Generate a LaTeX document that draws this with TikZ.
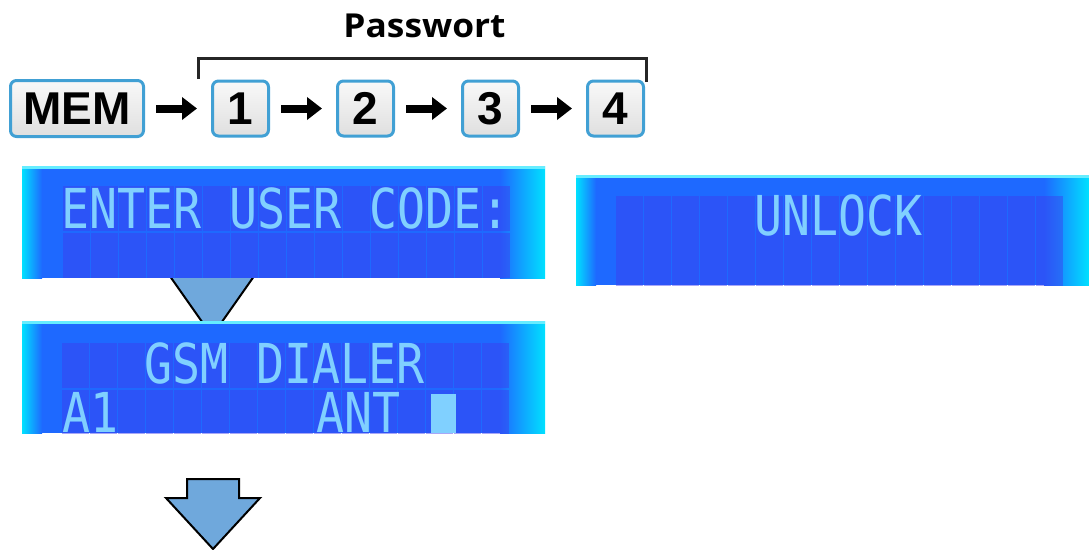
\documentclass[tikz,border=0pt]{standalone}
\usepackage{fontspec}
\usepackage{graphicx}
\usetikzlibrary{arrows.meta,positioning}
\setmainfont{Liberation Sans}
\newfontfamily\lcdfont{DejaVu Sans Mono}
\newfontfamily\titlefont{Open Sans}
\definecolor{keyblue}{RGB}{65,160,212}
\definecolor{lcdblue}{RGB}{30,105,255}
\definecolor{lcdedge}{RGB}{0,225,255}
\definecolor{lcdcell}{RGB}{62,60,238}
\definecolor{lcdtext}{RGB}{128,208,255}
\definecolor{arrowblue}{RGB}{111,168,220}
\begin{document}
\begin{tikzpicture}[line cap=round,line join=round,x=1pt,y=-1pt,
  key/.style={draw=keyblue,line width=3pt,rounded corners=6pt,top color=gray!5,bottom color=gray!25,
    inner sep=0pt,font=\fontsize{46}{46}\selectfont\bfseries},
  keyarrow/.style={-{Triangle[length=15pt,width=22pt]},line width=8pt,line cap=butt,
    shorten <=11pt,shorten >=14pt},
  lcdtxt/.style={anchor=base west,inner sep=0pt,text=lcdtext,font=\lcdfont\fontsize{55}{55}\selectfont},
  downarrow/.style={fill=arrowblue,draw=black,line width=2pt,line join=miter}]
\useasboundingbox (0,0) rectangle (1089,549);
% keys
\node [key,minimum width=133pt,minimum height=56pt] (mem) at (77,108.5) {MEM};
\begin{scope}[node distance=66pt]
\node [key,minimum width=56pt,minimum height=55pt,right=of mem] (k1) {1};
\node [key,minimum width=56pt,minimum height=55pt,right=of k1] (k2) {2};
\node [key,minimum width=56pt,minimum height=55pt,right=of k2] (k3) {3};
\node [key,minimum width=56pt,minimum height=55pt,right=of k3] (k4) {4};
\end{scope}
\draw [keyarrow] (mem) -- (k1);
\draw [keyarrow] (k1) -- (k2);
\draw [keyarrow] (k2) -- (k3);
\draw [keyarrow] (k3) -- (k4);
% bracket
\coordinate (brl) at (198,79);
\coordinate (brr) at (646,82);
\draw [line width=3pt,color=black!85,line cap=butt,line join=miter] (brl) -- ++(0,-21) -| (brr);
\node [anchor=base,inner sep=0pt,font=\titlefont\bfseries\fontsize{33}{33}\selectfont] (pw) at (424.5,37) {\scalebox{1.07}[1]{Passwort}};
% arrow behind the displays
\draw [downarrow] (160,262) -- (264,262) -- (212,336) -- cycle;
% displays
\foreach \xa/\ya/\xb/\yb/\cx/\ra/\rb in {22/166/545/278/63/186/233,576/175/1089/285/616/196/241,22/321/545/433/62/343/390}{
  \begin{scope}
  \clip (\xa,\ya) rectangle (\xb,\yb);
  \fill [lcdblue] (\xa,\ya) rectangle (\xb,\yb);
  \shade [left color=lcdedge,right color=lcdblue] (\xa,\ya) rectangle (\xa+20,\yb);
  \shade [left color=lcdblue,right color=lcdedge] (\xb-45,\ya) rectangle (\xb,\yb);
  \foreach \i in {0,...,15}{
    \fill [lcdcell,opacity=0.45] (\cx+\i*28,\ra) rectangle ++(27,45);
    \fill [lcdcell,opacity=0.45] (\cx+\i*28,\rb) rectangle ++(27,45);
  }
  \fill [lcdedge!60!white] (\xa,\ya) rectangle (\xb,\ya+3);
  \end{scope}
}
\node [lcdtxt] (enter) at (61,228) {\scalebox{0.846}[1]{ENTER USER CODE:}};
\node [lcdtxt] (unlock) at (754,235) {\scalebox{0.846}[1]{UNLOCK}};
\node [lcdtxt] (gsm) at (144,383) {\scalebox{0.846}[1]{GSM DIALER}};
\node [lcdtxt] (a1) at (62,432) {\scalebox{0.846}[1]{A1}};
\node [lcdtxt] (ant) at (316,432) {\scalebox{0.846}[1]{ANT}};
\fill [lcdtext] (431,394) rectangle (456,433);
% arrow at the bottom
\draw [downarrow] (187,479) -- (239,479) -- (239,498) -- (260,498) -- (213,549)
  -- (166,498) -- (187,498) -- cycle;
\end{tikzpicture}
\end{document}
